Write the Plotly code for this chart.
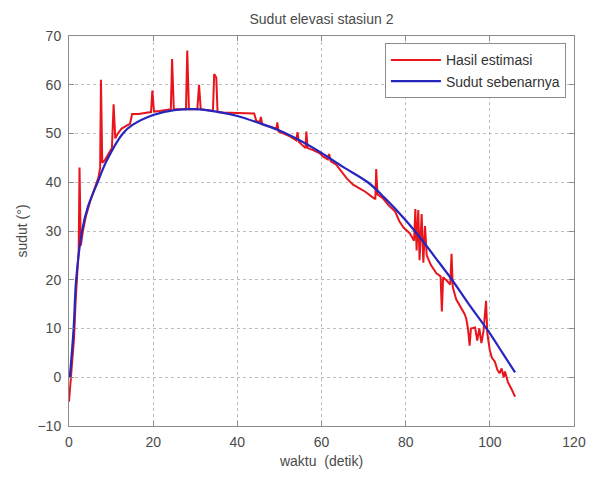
import plotly.graph_objects as go

# --- data ---
red_x = [0, 0.4, 0.8, 1.2, 1.6, 2.0, 2.3, 2.5, 2.8, 3.3, 4.0, 5.0, 6.0, 7.0, 7.4, 7.6, 7.9,
         8.5, 9.5, 10.2, 10.6, 11.0, 11.6, 12.5, 13.5, 14.5, 15.0, 16.5, 18.0, 19.5, 19.8,
         20.2, 21.5, 23.0, 24.2, 24.5, 24.9, 26.5, 27.8, 28.1, 28.5, 30.5, 30.9, 31.3, 33.0,
         34.2, 34.5, 35.0, 35.3, 36.5, 40.0, 44.0, 44.5, 45.3, 45.6, 45.9, 47.0, 48.5, 49.3,
         49.5, 49.8, 51.0, 52.5, 54.0, 54.3, 54.6, 55.5, 56.2, 56.4, 56.7, 58.0, 59.5, 60.5,
         61.5, 61.8, 62.2, 63.5, 64.5, 66.0, 67.5, 69.0, 70.5, 72.0, 72.8, 73.0, 73.3, 74.5,
         76.0, 77.5, 78.5, 79.5, 81.0, 82.0, 82.3, 82.6, 83.0, 83.3, 83.8, 84.2, 84.6, 85.0,
         86.0, 87.3, 88.3, 88.6, 88.9, 89.8, 90.6, 90.9, 91.2, 92.0, 93.0, 94.0, 94.4, 94.8,
         95.2, 95.5, 96.5, 97.0, 97.5, 98.0, 98.5, 99.1, 99.4, 100.0, 100.5, 101.2, 101.8,
         102.3, 102.8, 103.3, 103.6, 104.3, 105.2, 106.0]
red_y = [-5, -1, 3, 8, 16, 22, 26, 43, 27, 30, 33, 36, 38.5, 41, 43, 61, 44,
         44.5, 46, 47, 56, 49, 50, 51, 51.5, 52, 54, 54, 54.2, 54.4, 58.8,
         54.5, 54.6, 54.8, 55, 65.3, 55, 55, 55, 67, 55, 55, 60, 55, 54.7,
         54.6, 62.2, 61.5, 54.4, 54.3, 54.2, 54.1, 52.6, 52.3, 53.4, 51.9, 51.6, 51.2, 51.0,
         52.3, 50.4, 50, 49.4, 48.6, 50.3, 48.3, 47.6, 47.0, 50.4, 47.0, 46.6, 46, 45.2,
         44.7, 45.8, 44.3, 43.6, 42.5, 40.8, 39.5, 38.7, 38.0, 37.0, 36.5, 42.7, 37.5, 36.8,
         35.2, 34.0, 32, 30.7, 29.5, 28, 34.5, 26, 34.3, 24, 33.5, 23.5, 31, 25,
         23, 21.3, 20.7, 13.5, 20.5, 19.8, 19, 25.3, 18.5, 16, 14.5, 13, 12, 10,
         6.5, 10, 10.2, 7.5, 10, 7, 9.5, 15.7, 9, 5.5, 4, 3.2, 1.5,
         0.8, 1.8, 0, 1.2, -1, -2.5, -4]

blue_x = [0.2, 1.1, 1.7, 3.1, 4.5, 6.8, 9.0, 12.8, 15.0, 20.0, 25.0, 30.0, 35.0, 40.0,
          45.0, 50.0, 55.0, 60.0, 65.0, 71.0, 75.0, 80.0, 84.0, 87.0, 91.0, 95.0, 100.0,
          103.0, 106.0]
blue_y = [0, 10, 20, 30, 35, 40, 44.5, 50, 51.7, 53.8, 54.8, 55, 54.5, 53.6,
          52.2, 50.6, 48.5, 46, 43.2, 40, 36.8, 32.2, 28, 24.6, 20, 15, 9,
          5, 1]

x_ticks = [0, 20, 40, 60, 80, 100, 120]
y_ticks = [-10, 0, 10, 20, 30, 40, 50, 60, 70]

series_names = ["Hasil estimasi", "Sudut sebenarnya"]
title_text = "Sudut elevasi stasiun 2"
x_label = "waktu  (detik)"
y_label = "sudut (°)"

FONT = "Liberation Sans, Arial, sans-serif"
TXT = "#4a4a4a"
FS = 14

# page body has an 8px margin; figure is sized so that it fills the 598x479 window
W, H = 590, 471

fig = go.Figure()
fig.add_trace(go.Scatter(x=red_x, y=red_y, mode="lines", name=series_names[0],
                         legendgroup="a",
                         line=dict(color="#e8161c", width=2)))
fig.add_trace(go.Scatter(x=blue_x, y=blue_y, mode="lines", name=series_names[1],
                         legendgroup="b", line_shape="spline",
                         line=dict(color="#2626bd", width=2.2)))

axis_common = dict(
    showgrid=True, gridcolor="#bdbdbd", griddash="dot", gridwidth=1,
    showline=True, linecolor="#8c8c8c", linewidth=1, mirror="ticks",
    ticks="inside", ticklen=5, tickcolor="#8c8c8c",
    zeroline=False,
    tickfont=dict(family=FONT, size=FS, color=TXT),
)

fig.update_layout(
    width=W, height=H,
    margin=dict(l=61, r=21, t=28, b=43),
    paper_bgcolor="white", plot_bgcolor="white",
    font=dict(family=FONT, size=FS, color=TXT),
    title=dict(text=title_text, x=0.5, xref="paper", xanchor="center",
               y=1 - 11 / H, yref="container", yanchor="middle",
               font=dict(family=FONT, size=14, color=TXT)),
    xaxis=dict(range=[0, 120], tickvals=x_ticks, ticklabelstandoff=3,
               title=dict(text=x_label, standoff=7,
                          font=dict(family=FONT, size=FS, color=TXT)),
               **axis_common),
    yaxis=dict(range=[-10, 70], tickvals=y_ticks, ticklabelstandoff=4,
               title=dict(text=y_label, standoff=6,
                          font=dict(family=FONT, size=FS, color=TXT)),
               **axis_common),
    legend=dict(x=0.984, y=0.981, xanchor="right", yanchor="top",
                bgcolor="white", bordercolor="#8c8c8c", borderwidth=1,
                tracegroupgap=0, itemwidth=50,
                font=dict(family=FONT, size=FS, color="#333333")),
    showlegend=True,
)

fig.write_html("out.html")
